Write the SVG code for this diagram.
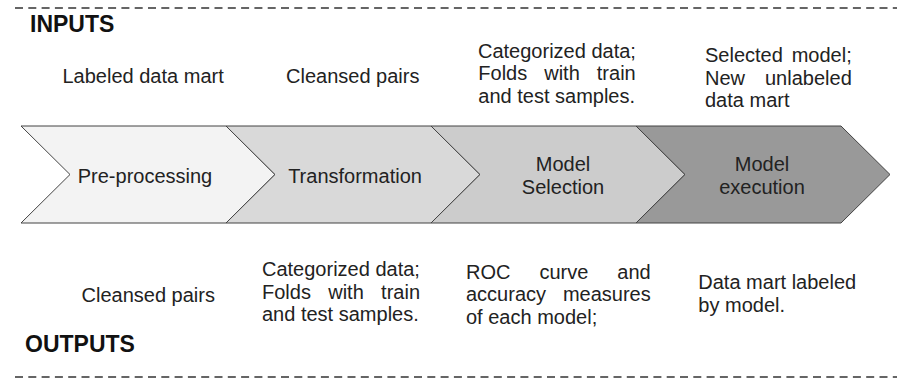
<svg xmlns="http://www.w3.org/2000/svg" width="897" height="385" viewBox="0 0 897 385">
<style>
.t{font-family:"Liberation Sans",Arial,sans-serif;font-size:20px;fill:#222}
.h{font-family:"Liberation Sans",Arial,sans-serif;font-size:23px;font-weight:bold;fill:#111}
.c{text-anchor:middle}
.ch{stroke:#434343;stroke-width:1;stroke-linejoin:miter}
.dash{stroke:#333;stroke-width:1.5;stroke-dasharray:8 5.3;fill:none}
</style>
<rect width="897" height="385" fill="#fff"/>
<g id="frame">
<line class="dash" x1="15" y1="8" x2="897" y2="8"/>
<line class="dash" x1="15" y1="377" x2="897" y2="377"/>
<text class="h" x="30" y="32">INPUTS</text>
<text class="h" x="25" y="352">OUTPUTS</text>
</g>
<g id="connectors"></g>
<g id="node-preprocessing">
<polygon class="ch" fill="#f3f3f3" points="21,126 226,126 275,174.5 226,223 21,223 70,174.5"/>
<text class="t c" x="145" y="183">Pre-processing</text>
</g>
<g id="node-transformation">
<polygon class="ch" fill="#d9d9d9" points="226,126 431,126 480,174.5 431,223 226,223 275,174.5"/>
<text class="t c" x="355" y="183">Transformation</text>
</g>
<g id="node-model-selection">
<polygon class="ch" fill="#cccccc" points="431,126 636,126 685,174.5 636,223 431,223 480,174.5"/>
<text class="t c" x="563" y="171">Model</text>
<text class="t c" x="563" y="193.5">Selection</text>
</g>
<g id="node-model-execution">
<polygon class="ch" fill="#999999" points="636,126 841,126 890,174.5 841,223 636,223 685,174.5"/>
<text class="t c" x="762" y="171">Model</text>
<text class="t c" x="762" y="193.5">execution</text>
</g>
<g id="inputs">
<text class="t" x="62.5" y="83">Labeled data mart</text>
<text class="t" x="286" y="83">Cleansed pairs</text>
<text class="t" y="57.5"><tspan x="478">Categorized data;</tspan></text>
<text class="t" y="80"><tspan x="478.3">Folds</tspan><tspan x="544.2">with</tspan><tspan x="596.8">train</tspan></text>
<text class="t" x="478.3" y="102.5">and test samples.</text>
<text class="t" y="62"><tspan x="705">Selected</tspan><tspan x="791.7">model;</tspan></text>
<text class="t" y="84.5"><tspan x="705">New</tspan><tspan x="765">unlabeled</tspan></text>
<text class="t" x="705" y="107">data mart</text>
</g>
<g id="outputs">
<text class="t" x="81.5" y="302">Cleansed pairs</text>
<text class="t" x="262" y="276">Categorized data;</text>
<text class="t" y="298.5"><tspan x="262">Folds</tspan><tspan x="328.2">with</tspan><tspan x="381.1">train</tspan></text>
<text class="t" x="262" y="321">and test samples.</text>
<text class="t" y="278.5"><tspan x="466">ROC</tspan><tspan x="539.4">curve</tspan><tspan x="617.3">and</tspan></text>
<text class="t" y="301"><tspan x="466">accuracy</tspan><tspan x="562.9">measures</tspan></text>
<text class="t" x="466" y="323.5">of each model;</text>
<text class="t" x="698.3" y="289">Data mart labeled</text>
<text class="t" x="698.3" y="311.5">by model.</text>
</g>
</svg>
